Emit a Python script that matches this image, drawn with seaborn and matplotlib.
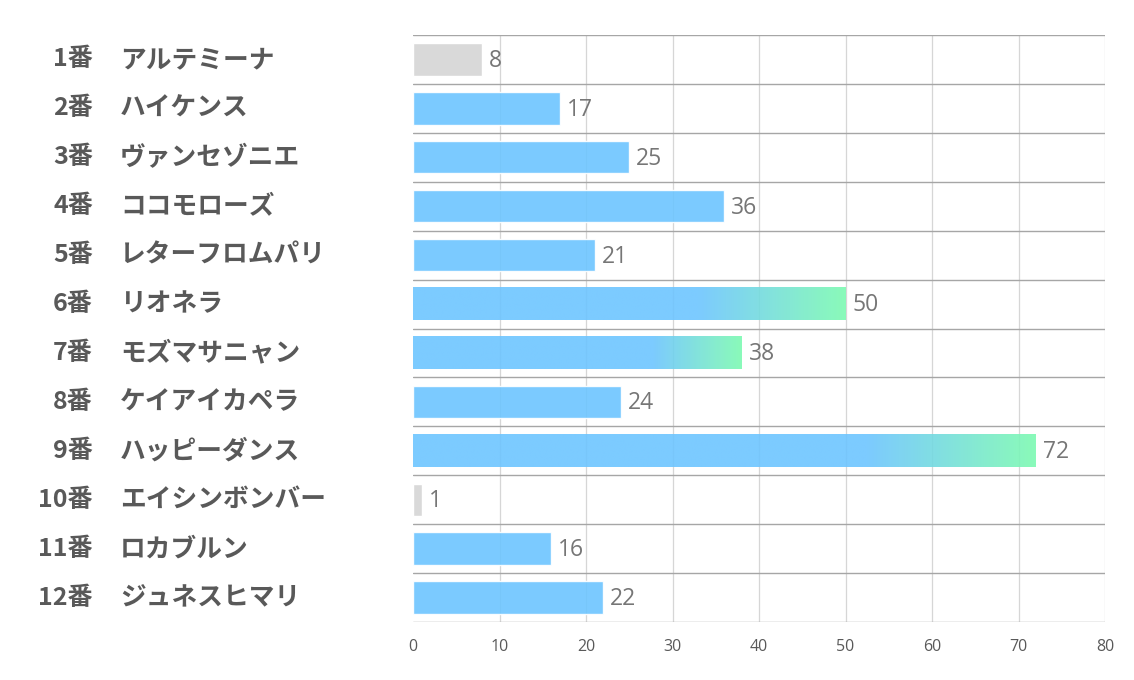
import numpy as np
import pandas as pd
import matplotlib
matplotlib.use("Agg")
import matplotlib.pyplot as plt
import matplotlib.transforms as mtransforms
from matplotlib.colors import to_rgb
import seaborn as sns

numbers = ["1番", "2番", "3番", "4番", "5番", "6番", "7番", "8番", "9番", "10番", "11番", "12番"]
names = ["アルテミーナ", "ハイケンス", "ヴァンセゾニエ", "ココモローズ", "レターフロムパリ", "リオネラ",
         "モズマサニャン", "ケイアイカペラ", "ハッピーダンス", "エイシンボンバー", "ロカブルン", "ジュネスヒマリ"]
values = [8, 17, 25, 36, 21, 50, 38, 24, 72, 1, 16, 22]
kinds = ["gray", "blue", "blue", "blue", "blue", "grad", "grad", "blue", "grad", "gray", "blue", "blue"]
grad_start = [0, 0, 0, 0, 0, 0.66, 0.73, 0, 0.73, 0, 0, 0]
xticks = [0, 10, 20, 30, 40, 50, 60, 70, 80]

sns.set_theme(style="white")
plt.rcParams["font.family"] = ["Noto Sans CJK JP", "DejaVu Sans"]

BLUE = "#6dc5ff"
GREEN = "#7dfab2"
GRAY = "#d9d9d9"
palette = {"gray": GRAY, "blue": BLUE, "grad": BLUE}

df = pd.DataFrame({"label": [f"{n}{m}" for n, m in zip(numbers, names)], "value": values, "kind": kinds})

fig = plt.figure(figsize=(11.34, 6.8), dpi=100)
ax = fig.add_axes([413 / 1134, 1 - 622 / 680, 692 / 1134, 587 / 680])

sns.barplot(data=df, x="value", y="label", hue="kind", palette=palette, dodge=False,
            orient="h", width=0.66, legend=False, ax=ax, saturation=1, zorder=2)

ax.set_xlim(xticks[0], xticks[-1])
ax.set_ylim(len(values) - 0.5, -0.5)

patches = sorted([p for p in ax.patches if p.get_width() > 0], key=lambda p: p.get_y())
for p, kind, g in zip(patches, kinds, grad_start):
    p.set_alpha(1.0 if kind == "gray" else 0.9)
    if kind == "grad":
        x0, y0, w, h = p.get_x(), p.get_y(), p.get_width(), p.get_height()
        n = 256
        t = np.linspace(0, 1, n)
        b = np.array(to_rgb(BLUE)); gcol = np.array(to_rgb(GREEN))
        f = np.clip((t - g) / (1 - g), 0, 1)[:, None]
        cols = b * (1 - f) + gcol * f
        img = np.concatenate([cols, np.full((n, 1), 0.9)], axis=1)[None, :, :]
        p.set_alpha(0)
        ax.imshow(img, extent=[x0, x0 + w, y0 + h, y0], aspect="auto",
                  interpolation="bilinear", zorder=2.1)
ax.set_aspect("auto")
ax.set_xlim(xticks[0], xticks[-1])
ax.set_ylim(len(values) - 0.5, -0.5)

for p, v in zip(patches, values):
    ax.annotate(str(v), xy=(p.get_x() + p.get_width(), p.get_y() + p.get_height() / 2),
                xytext=(5, -1), textcoords="offset points", va="center", ha="left",
                fontsize=16.5, color="#767676", family=["Open Sans", "DejaVu Sans"], zorder=4)

ax.set_xticks(xticks)
ax.set_xticklabels([str(x) for x in xticks], fontsize=11.5, color="#595959",
                   family=["Open Sans", "DejaVu Sans"])
ax.tick_params(axis="x", length=0, pad=12)
for x in xticks[1:]:
    ax.axvline(x, color="#d6d6d6", lw=0.9, zorder=1)
for i in range(len(values) + 1):
    ax.axhline(i - 0.5, color="#a6a6a6", lw=1.0, zorder=3)

ax.set_yticks(range(len(values)))
ax.set_yticklabels([])
ax.tick_params(axis="y", length=0)
ax.set_xlabel("")
ax.set_ylabel("")
for s in ax.spines.values():
    s.set_visible(False)

trans = mtransforms.blended_transform_factory(fig.transFigure, ax.transData)
for i, (n, m) in enumerate(zip(numbers, names)):
    ax.text(93 / 1134, i, n, transform=trans, ha="right", va="center", fontsize=18,
            fontweight="bold", color="#595959", clip_on=False)
    ax.text(120 / 1134, i, m, transform=trans, ha="left", va="center", fontsize=18.5,
            fontweight="bold", color="#595959", clip_on=False)

fig.savefig("out.png", dpi=100, facecolor="white")
